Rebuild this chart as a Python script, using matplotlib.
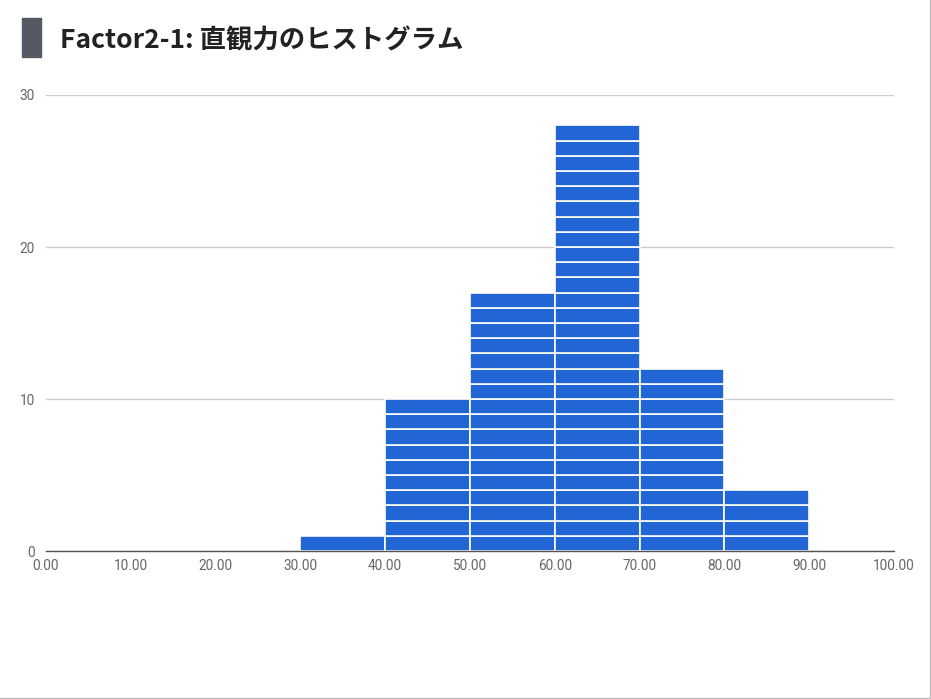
import matplotlib
matplotlib.use("Agg")
import matplotlib.pyplot as plt
from matplotlib.lines import Line2D
from matplotlib.patches import Rectangle

plt.rcParams['font.family'] = ['Noto Sans CJK JP', 'DejaVu Sans']

# histogram bins and counts
bin_edges = [0, 10, 20, 30, 40, 50, 60, 70, 80, 90, 100]
counts = [0, 0, 0, 1, 10, 17, 28, 12, 4, 0]
title = "Factor2-1: 直観力のヒストグラム"
bar_color = '#2166d4'

fig = plt.figure(figsize=(9.31, 6.99), dpi=100)
ax = fig.add_axes([0.0494, 0.2117, 0.9109, 0.6524])

# each observation drawn as one stacked block, like the sheets chart
for left, right, n in zip(bin_edges[:-1], bin_edges[1:], counts):
    for k in range(n):
        ax.bar(left, 1, width=right - left, bottom=k, align='edge',
               color=bar_color, edgecolor='white', linewidth=1.2, zorder=3)

ax.set_xlim(0, 100)
ax.set_ylim(0, 30)
ax.set_yticks([0, 10, 20, 30])
ax.set_xticks(bin_edges)
ax.set_xticklabels([f"{v:.2f}" for v in bin_edges])
ax.grid(axis='y', color='#cccccc', linewidth=1, zorder=0)
ax.tick_params(length=0, labelsize=9.8, labelcolor='#666666')
ax.tick_params(axis='x', pad=6)
ax.tick_params(axis='y', pad=8)
for lbl in ax.get_xticklabels() + ax.get_yticklabels():
    lbl.set_family(['Roboto', 'DejaVu Sans'])
for s in ['top', 'right', 'left']:
    ax.spines[s].set_visible(False)
ax.spines['bottom'].set_color('#555555')
ax.spines['bottom'].set_linewidth(1)
ax.spines['bottom'].set_zorder(4)

# title with the dark marker block
fig.patches.append(Rectangle((22 / 931, 1 - 57 / 699), 19 / 931, 39 / 699,
                             transform=fig.transFigure, color='#555a62'))
fig.text(60 / 931, 1 - 41 / 699, title, fontsize=19, fontweight='bold',
         color='#222222', va='center', ha='left')

# thin frame on the right and bottom edge
fig.add_artist(Line2D([0.9985, 0.9985], [0, 1], transform=fig.transFigure, color='#bbbbbb', linewidth=1))
fig.add_artist(Line2D([0, 1], [0.0015, 0.0015], transform=fig.transFigure, color='#bbbbbb', linewidth=1))

fig.savefig("out.png", dpi=100)
